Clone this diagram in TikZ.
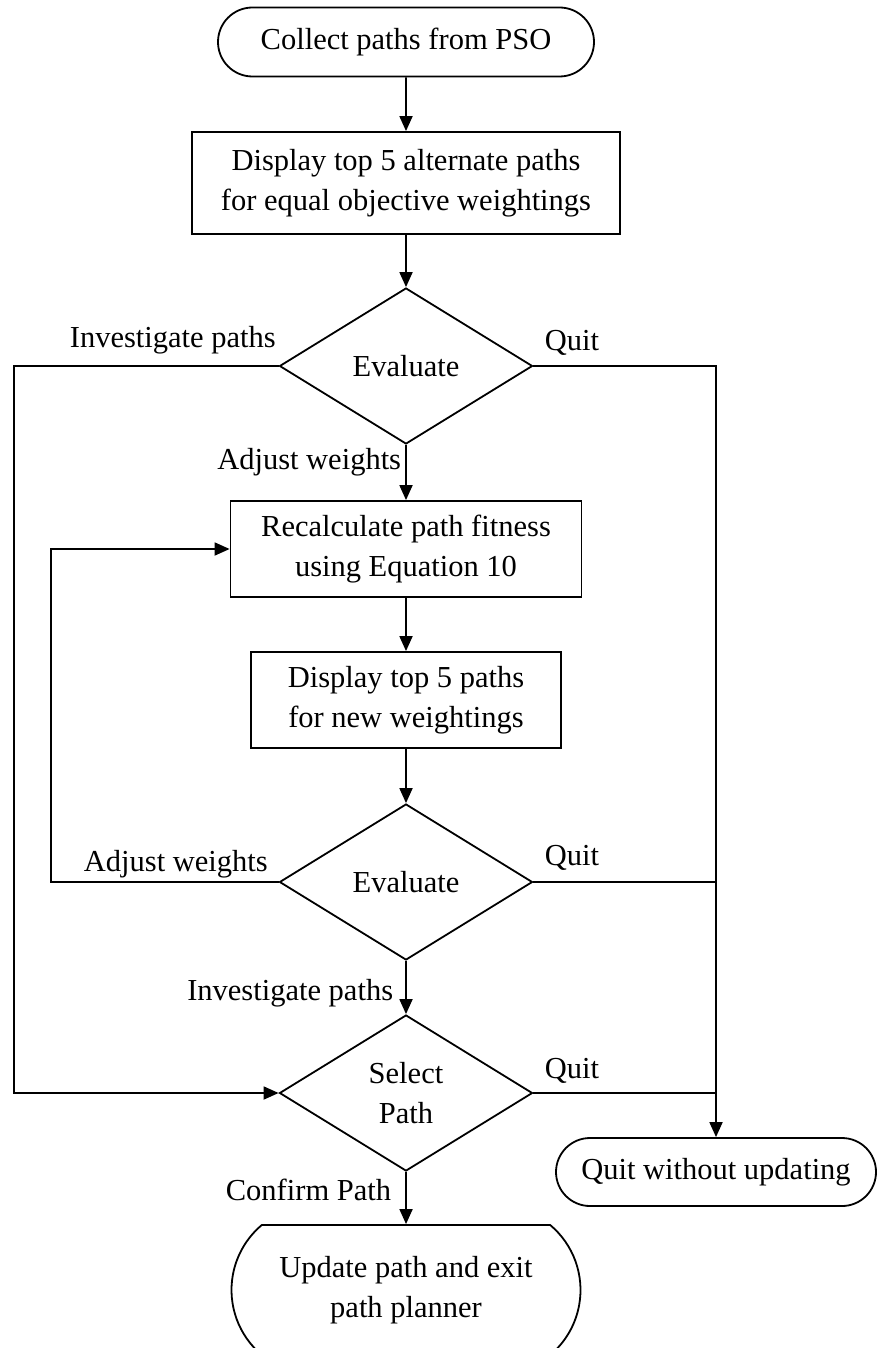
\documentclass[tikz,border=0pt]{standalone}
\usepackage{fontspec}
\setmainfont{Liberation Serif}
\usetikzlibrary{shapes.geometric,shapes.misc,arrows.meta}

\begin{document}
\begin{tikzpicture}[x=1pt,y=-1pt,
    line width=1.8pt,
    every node/.style={font=\fontsize{30.5}{40}\selectfont, align=center, inner sep=0pt},
    term/.style={draw, rounded rectangle},
    procbox/.style={draw, rectangle},
    decide/.style={draw, diamond, minimum width=253pt, minimum height=156pt},
    arr/.style={-{Triangle[length=15pt,width=13pt]}},
    lbl/.style={anchor=base west}]
    \useasboundingbox (0,0) rectangle (878,1348);
    \clip (0,0) rectangle (878,1348);
    % nodes
    \node[term, minimum width=376pt, minimum height=69pt] (start) at (406,42) {Collect paths from PSO};
    \node[procbox, minimum width=428pt, minimum height=102pt] (disp1) at (406,183) {Display top 5 alternate paths\\for equal objective weightings};
    \node[decide] (eval1) at (406,366) {Evaluate};
    \node[procbox, minimum width=351pt, minimum height=96pt] (recalc) at (406,549) {Recalculate path fitness\\using Equation 10};
    \node[procbox, minimum width=310pt, minimum height=96pt] (disp2) at (406,700) {Display top 5 paths\\for new weightings};
    \node[decide] (eval2) at (406,882) {Evaluate};
    \node[decide] (select) at (406,1093) {Select\\Path};
    \node[term, minimum width=320pt, minimum height=68pt] (quit) at (716,1172) {Quit without updating};
    \node[term, rounded rectangle arc length=100, minimum width=349pt, minimum height=130pt] (update) at (406,1290) {Update path and exit\\path planner};
    % helper points
    \coordinate (left) at (14,1093);
    \coordinate (loop) at (51,549);
    % connectors
    \draw[arr] (start) -- (disp1);
    \draw[arr] (disp1) -- (eval1);
    \draw[arr] (eval1) -- (recalc);
    \draw[arr] (recalc) -- (disp2);
    \draw[arr] (disp2) -- (eval2);
    \draw[arr] (eval2) -- (select);
    \draw[arr] (select) -- (update);
    \draw[arr] (eval1.west) -| (left) -- (select.west);
    \draw[arr] (eval2.west) -| (loop) -- (recalc.west);
    \draw[arr] (eval1.east) -| (quit.north);
    \draw (eval2.east) -- (eval2.east -| quit.north);
    \draw (select.east) -- (select.east -| quit.north);
    % labels
    \node[lbl] (ip1) at (69,347) {Investigate paths};
    \node[lbl] (q1) at (544,350) {Quit};
    \node[anchor=base east] (aw1) at (402,469) {Adjust weights};
    \node[lbl] (aw2) at (83,871) {Adjust weights};
    \node[lbl] (q2) at (544,865) {Quit};
    \node[anchor=base east] (ip3) at (394,1000) {Investigate paths};
    \node[lbl] (q3) at (544,1078) {Quit};
    \node[anchor=base east] (cp) at (392,1200) {Confirm Path};
\end{tikzpicture}
\end{document}
